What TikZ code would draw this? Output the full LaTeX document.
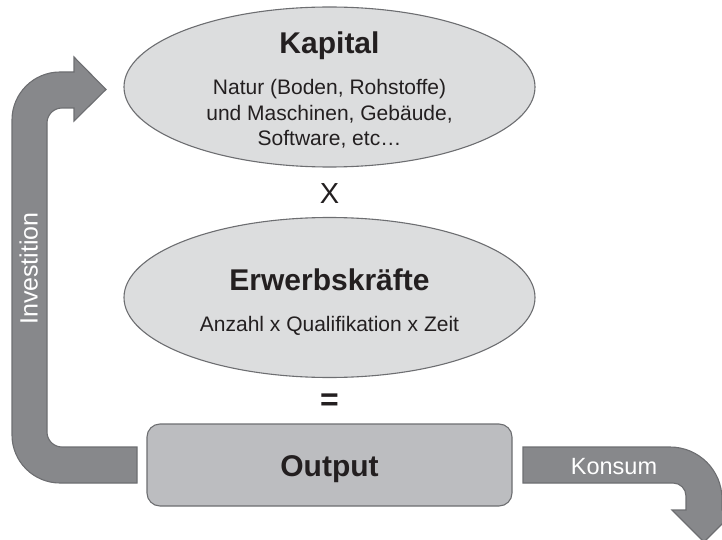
\documentclass[tikz,border=0pt]{standalone}
\usepackage{fontspec}
\setmainfont{Liberation Sans}
\usetikzlibrary{shapes.geometric}
\definecolor{ellfill}{HTML}{DCDDDE}
\definecolor{edgecol}{HTML}{6D6E71}
\definecolor{boxfill}{HTML}{BCBDC0}
\definecolor{arrfill}{HTML}{87888B}
\definecolor{ink}{HTML}{231F20}
\tikzset{
  ell/.style={ellipse, draw=edgecol, fill=ellfill, line width=1.1pt, minimum width=411pt, minimum height=160pt, inner sep=0pt},
  outbox/.style={draw=edgecol, fill=boxfill, line width=1.1pt, rounded corners=13pt, minimum width=365pt, minimum height=82pt, inner sep=0pt},
  bigarrow/.style={draw=edgecol, fill=arrfill, line width=1.1pt, line join=miter},
  titletext/.style={anchor=base, inner sep=0pt, text=ink, font=\bfseries\fontsize{30}{36}\selectfont},
  bodytext/.style={anchor=base, inner sep=0pt, text=ink, font=\fontsize{21}{25}\selectfont},
  optext/.style={anchor=base, inner sep=0pt, text=ink, font=\fontsize{29}{34}\selectfont},
  arrtext/.style={anchor=base, inner sep=0pt, text=white, font=\fontsize{23.5}{28}\selectfont},
}
\begin{document}
\begin{tikzpicture}[x=1pt,y=1pt]
\useasboundingbox (0,0) rectangle (722,539);
\clip (0,0) rectangle (722,539);

% Investition arrow
\draw[bigarrow] (137,92) -- (62,92) arc[start angle=270, end angle=180, radius=15pt]
  -- (47,416) arc[start angle=180, end angle=90, radius=15pt]
  -- (74,431) -- (74,418) -- (106,449.5) -- (74,482) -- (74,467) -- (60,467)
  arc[start angle=90, end angle=180, radius=48pt]
  -- (12,104) arc[start angle=180, end angle=270, radius=48pt]
  -- (137,56) -- cycle;
\node[arrtext, rotate=90, font=\fontsize{25}{30}\selectfont] (inv) at (37.5,270.5) {Investition};

% Konsum arrow
\draw[bigarrow] (523,92) -- (670,92) arc[start angle=90, end angle=0, radius=52pt]
  -- (722,29) -- (736,29) -- (704,-3) -- (672,29) -- (686,29) -- (686,43)
  arc[start angle=0, end angle=90, radius=13pt]
  -- (523,56) -- cycle;
\node[arrtext] (kon) at (614,65) {Konsum};

% Kapital
\node[ell] (kap) at (329.5,452) {};
\node[titletext] (kaptitle) at (329.5,485) {Kapital};
\node[bodytext] (kap1) at (329.5,444) {Natur (Boden, Rohstoffe)};
\node[bodytext] (kap2) at (329.5,418) {und Maschinen, Gebäude,};
\node[bodytext] (kap3) at (329.5,393) {Software, etc…};

% times
\node[optext] (times) at (329.5,335) {X};

% Erwerbskraefte
\node[ell] (erw) at (329.5,241.5) {};
\node[titletext] (erwtitle) at (329.5,249) {Erwerbskräfte};
\node[bodytext] (erw1) at (329.5,208) {Anzahl x Qualifikation x Zeit};

% equals
\node[inner sep=0pt, text=ink, font=\bfseries\fontsize{32}{36}\selectfont] (eq) at (329.5,137) {=};

% Output
\node[outbox] (out) at (329.5,74) {};
\node[titletext] (outtitle) at (329.5,63) {Output};
\end{tikzpicture}
\end{document}
